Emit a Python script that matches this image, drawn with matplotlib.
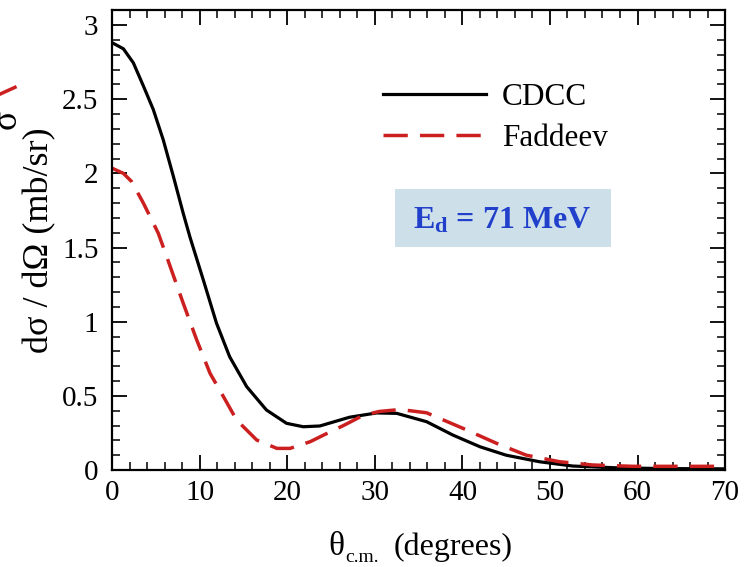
import matplotlib
matplotlib.use('Agg')
import matplotlib.pyplot as plt
from matplotlib.patches import Rectangle
from matplotlib.ticker import MultipleLocator

plt.rcParams['font.family'] = ['Liberation Serif', 'DejaVu Serif']
plt.rcParams['mathtext.fontset'] = 'custom'
plt.rcParams['mathtext.rm'] = 'Liberation Serif'
plt.rcParams['mathtext.it'] = 'Liberation Serif:italic'
plt.rcParams['mathtext.bf'] = 'Liberation Serif:bold'

# angles (degrees) and cross sections (mb/sr)
theta_cdcc = [0, 1.26, 2.4, 3.54, 4.68, 5.82, 6.97, 8.1, 8.87, 10.4, 11.9,
              13.4, 15.35, 17.6, 19.9, 21.8, 23.7, 27.1, 30.2, 32.5, 35.9,
              38.9, 42, 45, 48.8, 52.6, 57.6, 63, 70]
xs_cdcc = [2.88, 2.84, 2.745, 2.59, 2.43, 2.225, 1.98, 1.73, 1.57, 1.28, 0.99,
           0.764, 0.562, 0.405, 0.315, 0.292, 0.297, 0.356, 0.385, 0.382,
           0.326, 0.236, 0.157, 0.10, 0.056, 0.027, 0.015, 0.01, 0.008]

theta_fad = [0, 1.26, 2.2, 3.54, 4.5, 5.25, 6.2, 8.1, 9.64, 11.16, 12.7, 14.2,
             16.5, 18.8, 20.3, 22.6, 24.9, 26.4, 28.7, 30.5, 32.9, 35.9, 40.1,
             43.9, 47.3, 51.1, 54.9, 59.5, 64, 70]
xs_fad = [2.034, 2.0, 1.945, 1.80, 1.686, 1.596, 1.44, 1.124, 0.877, 0.652,
          0.494, 0.337, 0.202, 0.146, 0.146, 0.191, 0.258, 0.30, 0.37, 0.395,
          0.408, 0.386, 0.28, 0.18, 0.10, 0.056, 0.034, 0.025, 0.025, 0.025]

yticks = [0, 0.5, 1, 1.5, 2, 2.5, 3]
ytick_labels = ['0', '0.5', '1', '1.5', '2', '2.5', '3']

fig = plt.figure(figsize=(7.49, 5.67), dpi=100)
ax = fig.add_axes([0.150, 0.171, 0.818, 0.811])

ax.plot(theta_cdcc, xs_cdcc, color='black', lw=2.3, label='CDCC',
        solid_joinstyle='round')
ax.plot(theta_fad, xs_fad, color='#cc1f1f', lw=2.5, dashes=(7, 3.5),
        label='Faddeev')

ax.set_xlim(0, 70)
ax.set_ylim(0, 3.1)
ax.xaxis.set_major_locator(MultipleLocator(10))
ax.xaxis.set_minor_locator(MultipleLocator(2))
ax.set_yticks(yticks)
ax.set_yticklabels(ytick_labels)
ax.yaxis.set_minor_locator(MultipleLocator(0.1))
ax.tick_params(which='both', direction='in', top=True, right=True, labelsize=21)
ax.tick_params(which='major', length=11, width=1.3)
ax.tick_params(which='minor', length=6, width=1.1)
ax.tick_params(axis='y', pad=10)
ax.tick_params(axis='x', pad=7)
for s in ax.spines.values():
    s.set_linewidth(1.6)

# x label built from pieces so the subscript sits low like the original
fig.text(0.438, 0.021, 'θ', fontsize=24, va='baseline')
fig.text(0.461, 0.009, 'c.m.', fontsize=14, va='baseline')
fig.text(0.525, 0.021, '(degrees)', fontsize=23, va='baseline')
ax.set_ylabel('dσ / dΩ (mb/sr)', fontsize=26, labelpad=4)

ax.legend(loc='center left', bbox_to_anchor=(0.442, 0.766), frameon=False,
          fontsize=22.5, handlelength=3.3, handletextpad=0.5, labelspacing=0.4,
          borderpad=0, borderaxespad=0)

ax.add_patch(Rectangle((0.461, 0.485), 0.353, 0.126, transform=ax.transAxes,
                       fc='#cde0e9', ec='none', zorder=1))
ax.text(0.636, 0.543, r'$\mathbf{E_d}$ = 71 MeV', transform=ax.transAxes,
        ha='center', va='center', fontsize=23, color='#2040cc',
        fontweight='bold', zorder=2)

# cut-off fragment of a neighbouring panel at the top-left edge
fig.text(-0.012, 0.79, 'σ', fontsize=26, rotation=90, va='center')
fig.add_artist(plt.Line2D([0, 0.02], [0.834, 0.846], color='#cc1f1f', lw=2.5))

fig.savefig('out.png', dpi=100)
